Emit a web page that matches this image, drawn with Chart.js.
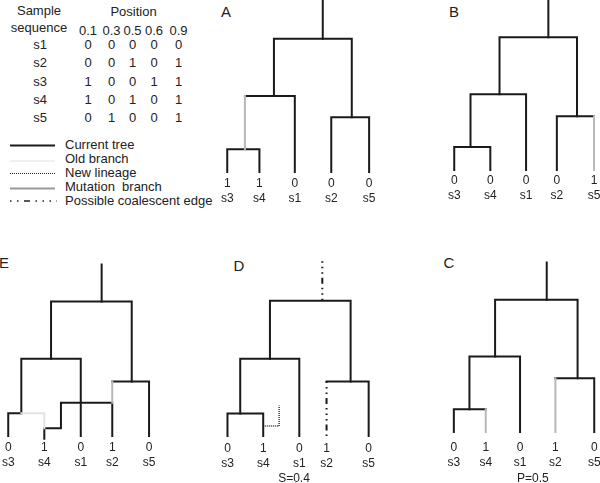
<!DOCTYPE html>
<html>
<head>
<meta charset="utf-8">
<script src="https://cdn.jsdelivr.net/npm/chart.js@4.4.1/dist/chart.umd.min.js"></script>
<style>
  html, body { margin: 0; padding: 0; background: #fff; }
  body { width: 600px; height: 483px; position: relative; overflow: hidden;
         font-family: "Liberation Sans", Arial, sans-serif; color: #222; }
  .t { position: absolute; white-space: nowrap; transform: translate(-50%, -50%); font-size: 13px; }
  .lg { position: absolute; white-space: nowrap; transform: translateY(-50%); font-size: 13px; left: 65px; }
  .letter { position: absolute; white-space: nowrap; transform: translate(-50%, -50%); font-size: 15px; }
  canvas { position: absolute; }
  svg { position: absolute; left: 0; top: 0; }
</style>
</head>
<body>
<svg width="70" height="210">
  <line x1="10" y1="145.5" x2="55" y2="145.5" stroke="#1a1a1a" stroke-width="2"/>
  <line x1="10" y1="161" x2="55" y2="161" stroke="#e2e2e2" stroke-width="1"/>
  <line x1="10" y1="173.5" x2="55" y2="173.5" stroke="#222" stroke-width="1.2" stroke-dasharray="1,1"/>
  <line x1="10" y1="188.5" x2="55" y2="188.5" stroke="#999" stroke-width="2"/>
  <line x1="10" y1="201" x2="57" y2="201" stroke="#222" stroke-width="1.5" stroke-dasharray="1.5,5.5,1.5,5.5,6,5.5,1.5,5.5,1.5,5.5"/>
</svg>
<div class="lg" style="top:144px">Current tree</div>
<div class="lg" style="top:158px">Old branch</div>
<div class="lg" style="top:172px">New lineage</div>
<div class="lg" style="top:185.5px">Mutation &nbsp;branch</div>
<div class="lg" style="top:200px">Possible coalescent edge</div>

<div class="letter" style="left:226px;top:11px">A</div>
<div class="letter" style="left:454px;top:11px">B</div>
<div class="letter" style="left:4px;top:262px">E</div>
<div class="letter" style="left:239px;top:265px">D</div>
<div class="letter" style="left:449px;top:262px">C</div>

<canvas id="treeA" width="184" height="221" style="left:206px;top:-4px"></canvas>
<canvas id="treeB" width="184" height="221" style="left:433px;top:-6px"></canvas>
<canvas id="treeE" width="184" height="221" style="left:-13px;top:260px"></canvas>
<canvas id="treeD" width="184" height="230" style="left:202px;top:260px"></canvas>
<canvas id="treeC" width="184" height="234" style="left:439px;top:256px"></canvas>

<script>
// sample table
const sampleIds = ['s1', 's2', 's3', 's4', 's5'];
const sitePositions = ['0.1', '0.3', '0.5', '0.6', '0.9'];
const haplotypes = [
    [0, 0, 0, 0, 0],
    [0, 0, 1, 0, 1],
    [1, 0, 0, 1, 1],
    [1, 0, 1, 0, 1],
    [0, 1, 0, 0, 1],
];

// trees: leaves in display order, x in leaf units, y in time units (leaves at 0)
const leafNames = ['s3', 's4', 's1', 's2', 's5'];

const allelesA = [1, 1, 0, 0, 0];
const leafXA = [0, 0.91, 1.91, 2.94, 4.01];
const currentA = [
    [[2.70, 12.9], [2.70, 10.0]],
    [[1.32, 5.7], [1.32, 10.0], [3.52, 10.0], [3.52, 4.1]],
    [[0.5, 5.7], [1.91, 5.7], [1.91, 0]],
    [[0, 0], [0, 1.7], [0.91, 1.7], [0.91, 0]],
    [[2.94, 0], [2.94, 4.1], [4.01, 4.1], [4.01, 0]],
];
const mutationA = [[[0.5, 1.7], [0.5, 5.7]]];

const allelesB = [0, 0, 0, 0, 1];
const leafXB = [0, 1.02, 2.03, 2.90, 3.95];
const currentB = [
    [[2.66, 12.8], [2.66, 9.95]],
    [[1.28, 5.69], [1.28, 9.95], [3.47, 9.95], [3.47, 4.04]],
    [[0.46, 1.73], [0.46, 5.69], [2.03, 5.69], [2.03, 0]],
    [[0, 0], [0, 1.73], [1.02, 1.73], [1.02, 0]],
    [[2.90, 0], [2.90, 4.04], [3.95, 4.04]],
];
const mutationB = [[[3.95, 4.04], [3.95, 0]]];

const allelesC = [0, 1, 0, 1, 0];
const leafXC = [0, 0.92, 1.91, 2.93, 4.05];
const currentC = [
    [[2.68, 12.71], [2.68, 9.92]],
    [[1.19, 5.66], [1.19, 9.92], [3.57, 9.92], [3.57, 4.03]],
    [[0.45, 1.70], [0.45, 5.66], [1.91, 5.66], [1.91, 0]],
    [[0, 0], [0, 1.70], [0.92, 1.70]],
    [[2.93, 4.03], [4.05, 4.03], [4.05, 0]],
];
const mutationC = [[[0.92, 1.70], [0.92, 0]], [[2.93, 4.03], [2.93, 0]]];

const allelesD = [0, 1, 0, 1, 0];
const leafXD = [0, 1.01, 2.03, 2.80, 3.99];
const currentD = [
    [[1.20, 5.79], [1.20, 10.15], [3.48, 10.15], [3.48, 4.08]],
    [[0.36, 1.68], [0.36, 5.79], [2.03, 5.79], [2.03, 0]],
    [[0, 0], [0, 1.68], [1.01, 1.68], [1.01, 0]],
    [[2.80, 4.08], [3.99, 4.08], [3.99, 0]],
];
const lineageD = [[[1.01, 0.75], [1.46, 0.75], [1.46, 2.28]]];
const coalescentD = [[[2.68, 13.1], [2.68, 10.15]], [[2.80, 4.08], [2.80, 0]]];

const allelesE = [0, 1, 0, 1, 0];
const leafXE = [0, 1.02, 2.05, 2.94, 3.98];
const currentE = [
    [[2.64, 12.86], [2.64, 10.08]],
    [[1.21, 5.79], [1.21, 10.08], [3.49, 10.08], [3.49, 4.08]],
    [[0.37, 1.71], [0.37, 5.79], [2.05, 5.79], [2.05, 0]],
    [[0, 0], [0, 1.71], [0.37, 1.71]],
    [[1.02, -0.2], [1.02, 0.58], [1.49, 0.58], [1.49, 2.50], [2.94, 2.50], [2.94, 0]],
    [[2.94, 4.08], [3.98, 4.08], [3.98, 0]],
];
const mutationE = [[[2.94, 4.08], [2.94, 2.50]]];
const oldE = [[[0.37, 1.71], [1.02, 1.71], [1.02, 0.58]]];

const FONT = '"Liberation Sans", Arial, sans-serif';

// table text
function place(text, x, y) {
    const d = document.createElement('div');
    d.className = 't';
    d.textContent = text;
    d.style.left = x + 'px';
    d.style.top = y + 'px';
    document.body.appendChild(d);
}
const colX = [88, 111.5, 132.5, 154, 178.5];
const rowY = [44.3, 62.3, 81, 99, 116.7];
place('Sample', 39, 10);
place('Position', 133.5, 11);
place('sequence', 39, 27);
sitePositions.forEach((p, j) => place(p, colX[j], 29.5));
sampleIds.forEach((s, i) => {
    place(s, 40, rowY[i]);
    haplotypes[i].forEach((v, j) => place(String(v), colX[j], rowY[i]));
});

const styles = {
    old: { color: '#e2e2e2', width: 2, cap: 'square' },
    mutation: { color: '#b8b8b8', width: 2, cap: 'square' },
    current: { color: '#1a1a1a', width: 2, cap: 'square' },
    lineage: { color: '#333', width: 1.5, dash: [1, 1], cap: 'butt' },
    coalescent: { color: '#1a1a1a', width: 2, dash: [1.5, 4, 1.5, 4, 1.5, 4, 6, 4], cap: 'butt' },
};

function drawTree(id, tree) {
    const datasets = [];
    ['old', 'mutation', 'current', 'lineage', 'coalescent'].forEach(kind => {
        const st = styles[kind];
        (tree[kind] || []).forEach(pts => datasets.push({
            data: pts.map(([x, y]) => ({ x, y })),
            showLine: true,
            pointRadius: 0,
            borderColor: st.color,
            borderWidth: st.width,
            borderDash: st.dash || [],
            borderCapStyle: st.cap,
            borderJoinStyle: 'miter',
            tension: 0,
            fill: false,
            clip: false,
        }));
    });

    const ctx = document.getElementById(id).getContext('2d');
    new Chart(ctx, {
        type: 'scatter',
        data: { datasets },
        options: {
            responsive: false,
            animation: false,
            devicePixelRatio: 1,
            layout: { padding: 0 },
            plugins: { legend: { display: false }, tooltip: { enabled: false } },
            scales: {
                x: {
                    type: 'linear',
                    min: tree.xMin,
                    max: tree.xMin + 5.2,
                    grid: { display: false, drawTicks: false },
                    border: { display: false },
                    afterBuildTicks: axis => {
                        axis.ticks = tree.leafX.map(v => ({ value: v }));
                    },
                    afterFit: axis => {
                        axis.height = tree.axisH;
                    },
                    ticks: {
                        autoSkip: false,
                        maxRotation: 0,
                        minRotation: 0,
                        padding: tree.pad,
                        color: '#222',
                        font: { family: FONT, size: 12, lineHeight: 1.25 },
                        callback: (value, index) => [String(tree.alleles[index]), leafNames[index]],
                    },
                    title: {
                        display: !!tree.note,
                        text: tree.note || '',
                        color: '#222',
                        padding: { top: 0, bottom: 4 },
                        font: { family: FONT, size: 12, lineHeight: 1.25 },
                    },
                },
                y: {
                    display: false,
                    min: 0,
                    max: 13.2,
                },
            },
        },
    });
}

drawTree('treeA', { leafX: leafXA, alleles: allelesA, current: currentA, mutation: mutationA,
    xMin: -0.6, pad: 4, axisH: 45 });
drawTree('treeB', { leafX: leafXB, alleles: allelesB, current: currentB, mutation: mutationB,
    xMin: -0.6, pad: 3.5, axisH: 45 });
drawTree('treeC', { leafX: leafXC, alleles: allelesC, current: currentC, mutation: mutationC,
    xMin: -0.32, pad: 8.5, axisH: 58, note: 'P=0.5' });
drawTree('treeD', { leafX: leafXD, alleles: allelesD, current: currentD, lineage: lineageD,
    coalescent: coalescentD, xMin: -0.72, pad: 5.5, axisH: 54, note: 'S=0.4' });
drawTree('treeE', { leafX: leafXE, alleles: allelesE, current: currentE, mutation: mutationE,
    old: oldE, xMin: -0.6, pad: 4, axisH: 45 });
</script>
</body>
</html>
